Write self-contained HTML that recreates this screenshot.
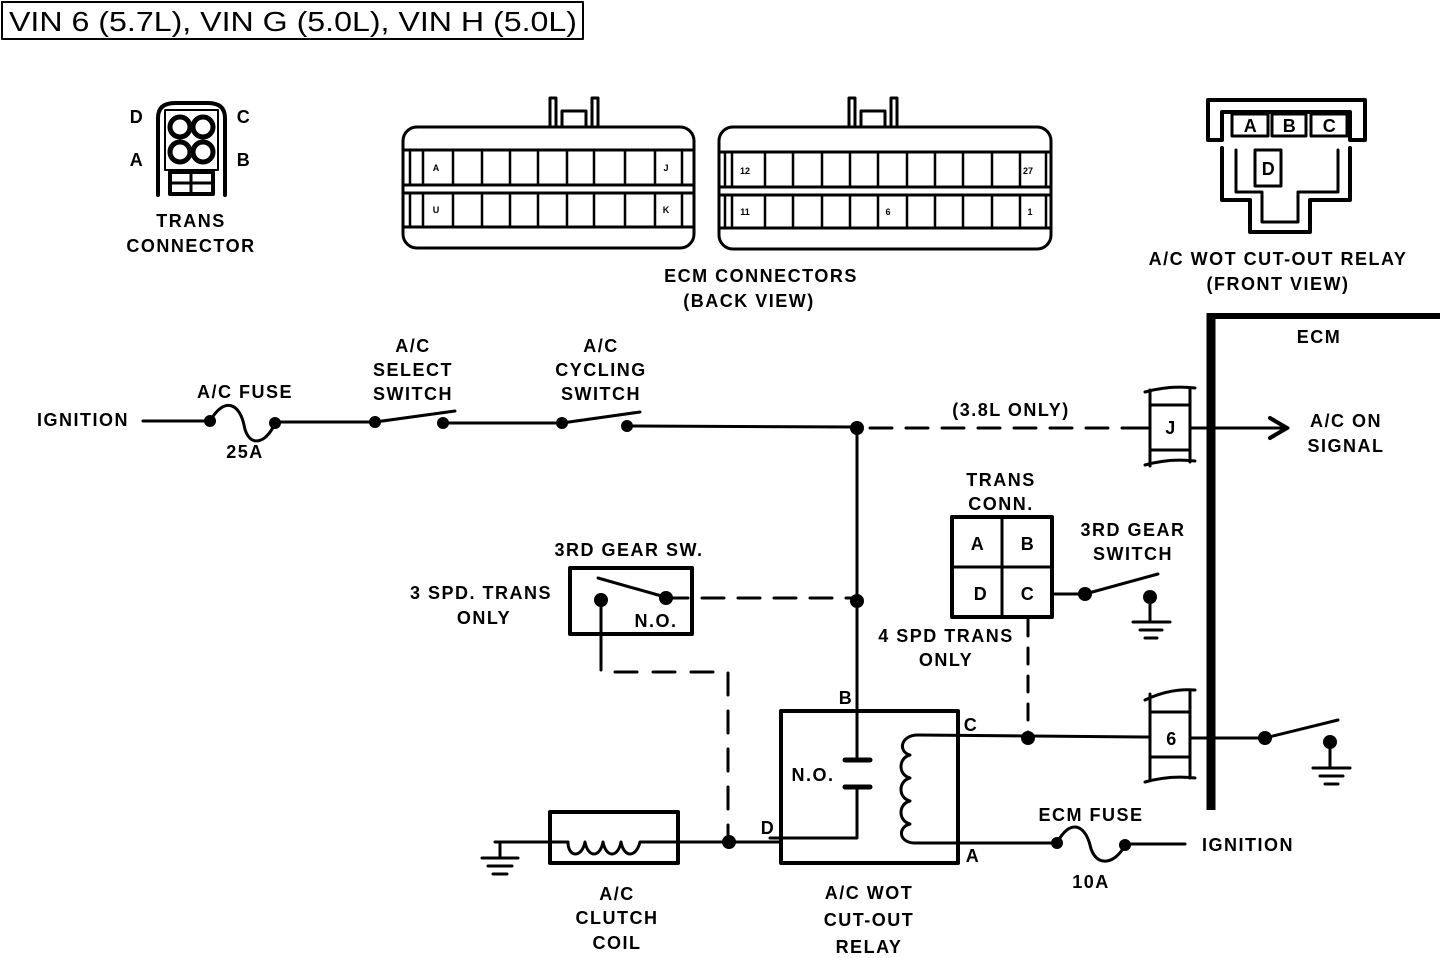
<!DOCTYPE html>
<html><head><meta charset="utf-8"><style>
html,body{margin:0;padding:0;background:#fff;}
svg{display:block;}
text{font-family:"Liberation Sans",sans-serif;font-weight:bold;fill:#000;}
</style></head><body>
<svg width="1440" height="958" viewBox="0 0 1440 958" xmlns="http://www.w3.org/2000/svg">
<g fill="none" stroke="#000" stroke-width="3" stroke-linecap="round" stroke-linejoin="round">
<rect x="2" y="2" width="581" height="37" stroke-width="2"/>
<path d="M158 195 V118 Q158 103 175 103 H208 Q225 103 225 118 V195" stroke-width="4"/>
<rect x="165" y="110" width="53" height="60" stroke-width="2"/>
<circle cx="180" cy="127" r="10" stroke-width="5"/><circle cx="203" cy="127" r="10" stroke-width="5"/>
<circle cx="180" cy="152" r="10" stroke-width="5"/><circle cx="203" cy="152" r="10" stroke-width="5"/>
<rect x="170" y="172" width="43" height="22" stroke-width="4"/>
<line x1="191" y1="172" x2="191" y2="194"/><line x1="170" y1="183" x2="213" y2="183"/>
<rect x="403" y="127" width="291" height="121" rx="14"/>
<path d="M550 127 V98 H556 V127 M592 127 V98 H598 V127 M562 127 V111 H586 V127"/>
<line x1="403" y1="150" x2="694" y2="150"/><line x1="403" y1="185" x2="694" y2="185"/>
<line x1="403" y1="193" x2="694" y2="193"/><line x1="403" y1="227" x2="694" y2="227"/>
<g stroke-width="2.5">
<path d="M410 150V185M423 150V185M453 150V185M482 150V185M510 150V185M538 150V185M567 150V185M594 150V185M625 150V185M655 150V185M682 150V185"/>
<path d="M410 193V227M423 193V227M453 193V227M482 193V227M510 193V227M538 193V227M567 193V227M594 193V227M625 193V227M655 193V227M682 193V227"/>
</g>
<rect x="719" y="127" width="332" height="122" rx="14"/>
<path d="M849 127 V98 H855 V127 M891 127 V98 H897 V127 M861 127 V111 H885 V127"/>
<line x1="719" y1="152" x2="1051" y2="152"/><line x1="719" y1="187" x2="1051" y2="187"/>
<line x1="719" y1="195" x2="1051" y2="195"/><line x1="719" y1="228" x2="1051" y2="228"/>
<g stroke-width="2.5">
<path d="M725 152V187M732 152V187M765 152V187M793 152V187M822 152V187M850 152V187M878 152V187M907 152V187M935 152V187M963 152V187M992 152V187M1020 152V187M1046 152V187"/>
<path d="M725 195V228M732 195V228M765 195V228M793 195V228M822 195V228M850 195V228M878 195V228M907 195V228M935 195V228M963 195V228M992 195V228M1020 195V228M1046 195V228"/>
</g>
<path d="M1208 140 V100 H1365 V140 H1350 V112 H1222 V140 Z" stroke-width="4"/>
<rect x="1232" y="114" width="36" height="22" stroke-width="3"/>
<rect x="1272" y="114" width="34" height="22" stroke-width="3"/>
<rect x="1311" y="114" width="36" height="22" stroke-width="3"/>
<rect x="1255" y="150" width="26" height="36" stroke-width="3"/>
<path d="M1222 148 V200 H1250 V232 H1310 V200 H1350 V148" stroke-width="4"/>
<path d="M1236 150 V192 H1262 V222 H1298 V192 H1338 V150" stroke-width="3"/>
<line x1="1211" y1="313" x2="1211" y2="810" stroke-width="9" stroke-linecap="butt"/>
<line x1="1211" y1="316" x2="1440" y2="316" stroke-width="6" stroke-linecap="butt"/>
<line x1="143" y1="421" x2="205" y2="421"/>
<path d="M210 421 C225 395 240 405 244 425 C248 448 266 445 275 423"/>
<line x1="275" y1="422" x2="375" y2="422"/>
<line x1="375" y1="422" x2="455" y2="411"/>
<line x1="443" y1="423" x2="562" y2="423"/>
<line x1="562" y1="423" x2="640" y2="412"/>
<line x1="627" y1="426" x2="857" y2="427"/>
<path d="M870 428 H1140" stroke-dasharray="22 14"/>
<path d="M1145 392 Q1170 385 1195 388 M1145 465 Q1170 458 1195 461 M1150 390 V466 M1190 388 V462 M1150 405 H1190 M1150 450 H1190 M1133 428 H1148"/>
<line x1="1190" y1="428" x2="1288" y2="428"/>
<path d="M1270 418 L1287 428 L1270 438" stroke-width="4"/>
<line x1="857" y1="428" x2="857" y2="760"/>
<rect x="570" y="568" width="122" height="66" stroke-width="4"/>
<line x1="598" y1="578" x2="665" y2="597"/>
<line x1="601" y1="600" x2="601" y2="647"/>
<path d="M666 598 H857" stroke-dasharray="22 14"/>
<path d="M601 648 V672 H728 V840" stroke-dasharray="22 16"/>
<rect x="781" y="711" width="177" height="152" stroke-width="4"/>
<line x1="845" y1="760" x2="870" y2="760" stroke-width="5"/>
<line x1="845" y1="787" x2="870" y2="787" stroke-width="5"/>
<path d="M857 787 V838 H770"/>
<path d="M918 735 C900 735 898 752 910 755 C898 758 898 775 910 778 C898 781 898 798 910 801 C898 804 898 821 910 824 C898 827 898 842 914 843"/>
<line x1="918" y1="735" x2="1150" y2="737"/>
<line x1="914" y1="843" x2="1055" y2="843"/>
<path d="M1057 843 C1070 818 1085 825 1090 845 C1095 868 1115 865 1125 845"/>
<line x1="1125" y1="844" x2="1185" y2="844"/>
<rect x="952" y="517" width="100" height="100" stroke-width="4"/>
<line x1="1002" y1="517" x2="1002" y2="617"/><line x1="952" y1="567" x2="1052" y2="567"/>
<line x1="1052" y1="594" x2="1085" y2="594"/>
<line x1="1085" y1="594" x2="1158" y2="574"/>
<path d="M1150 597 V622 M1133 622 H1170 M1140 630 H1162 M1145 638 H1157"/>
<path d="M1028 620 V736" stroke-dasharray="16 12"/>
<path d="M1145 700 Q1170 688 1195 690 M1145 782 Q1170 775 1195 778 M1150 694 V780 M1190 690 V778 M1150 712 H1190 M1150 757 H1190"/>
<line x1="1190" y1="738" x2="1265" y2="738"/>
<line x1="1265" y1="738" x2="1338" y2="720"/>
<path d="M1330 742 V768 M1313 768 H1350 M1320 776 H1343 M1325 784 H1338"/>
<rect x="550" y="812" width="128" height="51" stroke-width="4"/>
<path d="M495 842 H568 C568 858 582 858 585 842 C588 858 600 858 603 842 C606 858 618 858 621 842 C624 858 636 858 640 842 H781"/>
<path d="M500 842 V858 M482 858 H518 M488 866 H512 M493 874 H507"/>
</g>
<g fill="#000">
<circle cx="210" cy="421" r="6"/><circle cx="275" cy="423" r="6"/>
<circle cx="375" cy="422" r="6"/><circle cx="443" cy="423" r="6"/>
<circle cx="562" cy="423" r="6"/><circle cx="627" cy="426" r="6"/>
<circle cx="857" cy="428" r="7"/><circle cx="857" cy="601" r="7"/>
<circle cx="601" cy="600" r="7"/><circle cx="666" cy="598" r="7"/>
<circle cx="729" cy="842" r="7"/><circle cx="1028" cy="738" r="7"/>
<circle cx="1085" cy="594" r="7"/><circle cx="1150" cy="597" r="7"/>
<circle cx="1265" cy="738" r="7"/><circle cx="1330" cy="742" r="7"/>
<circle cx="1057" cy="843" r="6"/><circle cx="1125" cy="845" r="6"/>
</g>
<text x="9" y="31" font-size="28" textLength="568" lengthAdjust="spacingAndGlyphs" style="font-weight:normal">VIN 6 (5.7L), VIN G (5.0L), VIN H (5.0L)</text>
<g font-size="18" text-anchor="middle" letter-spacing="1.5">
<text x="137" y="123">D</text><text x="244" y="123">C</text>
<text x="137" y="166">A</text><text x="244" y="166">B</text>
<text x="191" y="227">TRANS</text><text x="191" y="252">CONNECTOR</text>
<text x="761" y="282">ECM CONNECTORS</text><text x="749" y="307">(BACK VIEW)</text>
<text x="1278" y="265">A/C WOT CUT-OUT RELAY</text><text x="1278" y="290">(FRONT VIEW)</text>
<text x="1251" y="132">A</text><text x="1290" y="132">B</text><text x="1330" y="132">C</text><text x="1269" y="175">D</text>
<text x="1319" y="343">ECM</text>
<text x="83" y="426">IGNITION</text>
<text x="245" y="398">A/C FUSE</text><text x="245" y="458">25A</text>
<text x="413" y="352">A/C</text><text x="413" y="376">SELECT</text><text x="413" y="400">SWITCH</text>
<text x="601" y="352">A/C</text><text x="601" y="376">CYCLING</text><text x="601" y="400">SWITCH</text>
<text x="1011" y="416">(3.8L ONLY)</text>
<text x="1171" y="434">J</text>
<text x="1346" y="427">A/C ON</text><text x="1346" y="452">SIGNAL</text>
<text x="1001" y="486">TRANS</text><text x="1001" y="510">CONN.</text>
<text x="978" y="550">A</text><text x="1028" y="550">B</text><text x="981" y="600">D</text><text x="1028" y="600">C</text>
<text x="1133" y="536">3RD GEAR</text><text x="1133" y="560">SWITCH</text>
<text x="629" y="556">3RD GEAR SW.</text>
<text x="481" y="599">3 SPD. TRANS</text><text x="484" y="624">ONLY</text>
<text x="656" y="627">N.O.</text>
<text x="946" y="642">4 SPD TRANS</text><text x="946" y="666">ONLY</text>
<text x="846" y="704">B</text><text x="971" y="731">C</text><text x="768" y="834">D</text><text x="973" y="862">A</text>
<text x="813" y="781">N.O.</text>
<text x="1172" y="745">6</text>
<text x="1091" y="821">ECM FUSE</text><text x="1091" y="888">10A</text>
<text x="1248" y="851">IGNITION</text>
<text x="617" y="900">A/C</text><text x="617" y="924">CLUTCH</text><text x="617" y="949">COIL</text>
<text x="869" y="899">A/C WOT</text><text x="869" y="926">CUT-OUT</text><text x="869" y="953">RELAY</text>
</g>
<g font-size="9" text-anchor="middle">
<text x="436" y="171">A</text><text x="666" y="171">J</text><text x="436" y="213">U</text><text x="666" y="213">K</text>
<text x="745" y="174">12</text><text x="1028" y="174">27</text><text x="745" y="215">11</text><text x="888" y="215">6</text><text x="1030" y="215">1</text>
</g>
</svg>
</body></html>
